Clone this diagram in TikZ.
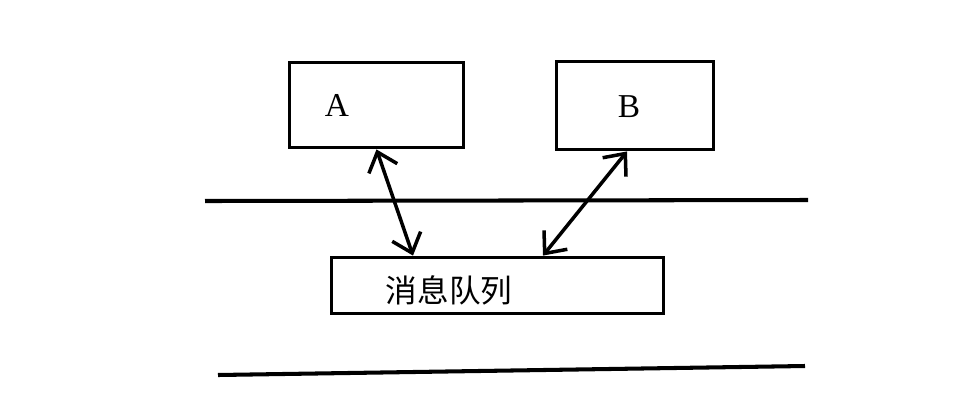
\documentclass[tikz,border=0pt]{standalone}
\usepackage{fontspec}
\setmainfont{Liberation Serif}
\newfontfamily\cjk{Noto Sans CJK SC}
\usetikzlibrary{arrows.meta, positioning}

\begin{document}
\begin{tikzpicture}[
        box/.style={rectangle, draw, line width=2.2pt, inner sep=0pt},
        lbl/.style={font=\fontsize{19}{19}\selectfont},
        link/.style={{Straight Barb[length=0.35cm,width=0.6cm]}-{Straight Barb[length=0.35cm,width=0.6cm]}, line width=2pt},
        rule/.style={line width=2.3pt}
    ]
    \useasboundingbox (0,0) rectangle (19.42,-8.16);

    % Boxes
    \node[box, minimum width=3.48cm, minimum height=1.70cm] (a) at (7.53,-2.10) {};
    \node[box, minimum width=3.14cm, minimum height=1.76cm] (b) at (12.70,-2.11) {};
    \node[box, minimum width=6.64cm, minimum height=1.12cm] (mq) at (9.95,-5.71) {};

    % Labels
    \node[lbl] (alabel) at ([xshift=-0.79cm]a.center) {A};
    \node[lbl] (blabel) at ([xshift=-0.12cm,yshift=-0.03cm]b.center) {B};
    \node[font=\cjk\fontsize{18}{18}\selectfont] (mqlabel) at ([xshift=-0.97cm,yshift=-0.09cm]mq.center) {消息队列};

    % Lines
    \draw[rule] (4.10,-4.02) -- (16.16,-4.00);
    \draw[rule] (4.36,-7.50) -- (16.10,-7.32);

    % Connections
    \draw[link] (a.south) -- ([xshift=-1.69cm]mq.north);
    \draw[link] ([xshift=-0.16cm]b.south) -- ([xshift=0.91cm]mq.north);

\end{tikzpicture}
\end{document}
